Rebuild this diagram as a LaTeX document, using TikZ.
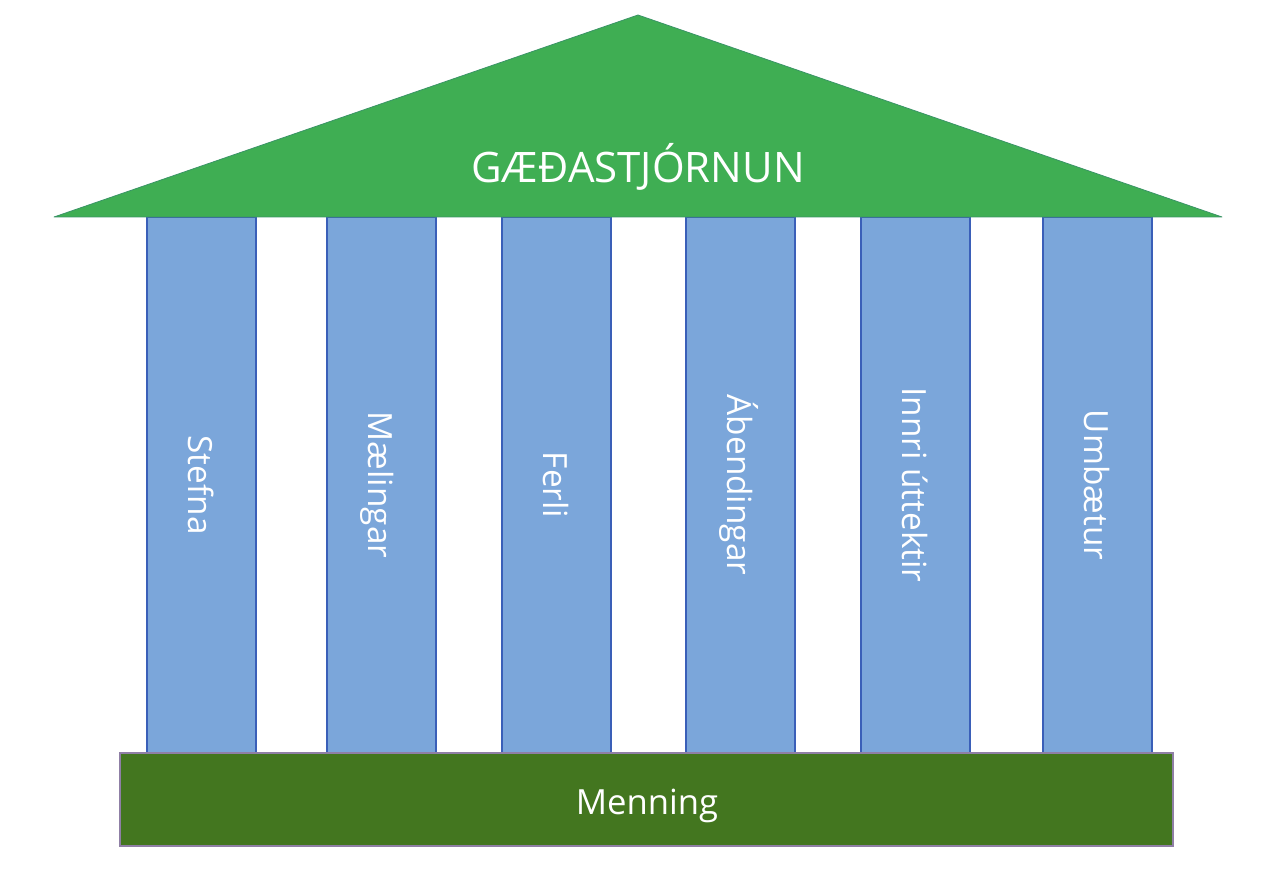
\documentclass[tikz,border=0pt]{standalone}
\usepackage{fontspec}
\setmainfont{Open Sans}
\definecolor{rooffill}{HTML}{3FAE53}
\definecolor{roofline}{HTML}{3A9466}
\definecolor{pillarfill}{HTML}{7BA6DA}
\definecolor{pillarline}{HTML}{3A5FB8}
\definecolor{basefill}{HTML}{43761F}
\definecolor{baseline}{HTML}{8F7FA5}

\begin{document}
\begin{tikzpicture}[x=0.75pt,y=-0.75pt,
    pillar/.style={draw=pillarline,fill=pillarfill,line width=1.2pt,rotate=-90,
      minimum width=402pt,minimum height=81.75pt,inner sep=0pt,text=white,
      font=\fontsize{25}{30}\selectfont,text height=19pt,text depth=0pt},
    plinth/.style={draw=baseline,fill=basefill,line width=1.1pt,
      minimum width=789.75pt,minimum height=69.75pt,inner sep=0pt},
    title/.style={text=white,anchor=base,inner sep=0pt}]
   \useasboundingbox (0,0) rectangle (1271,891);
   % pillars
   \node[pillar] (stefna)   at (201.5,485) {Stefna};
   \node[pillar] (maeling)  at (381.5,485) {Mælingar};
   \node[pillar] (ferli)    at (556.5,485) {Ferli};
   \node[pillar] (abend)    at (740.5,485) {Ábendingar};
   \node[pillar] (uttekt)   at (915.5,485) {Innri úttektir};
   \node[pillar] (umbaetur) at (1097.5,485) {Umbætur};
   % roof
   \coordinate (eaveL) at (54,217);
   \coordinate (apex)  at (638,15);
   \coordinate (eaveR) at (1222,217);
   \filldraw[fill=rooffill,draw=roofline,line width=0.6pt,line join=round]
     (eaveL) -- (apex) -- (eaveR) -- cycle;
   \node[title,font=\fontsize{31.5}{38}\selectfont] (gaedi) at (638,183) {GÆĐASTJÓRNUN};
   % base
   \node[plinth] (grunnur) at (646.5,799.5) {};
   \node[title,font=\fontsize{26}{31}\selectfont] (menning) at (647,814) {Menning};
\end{tikzpicture}
\end{document}
